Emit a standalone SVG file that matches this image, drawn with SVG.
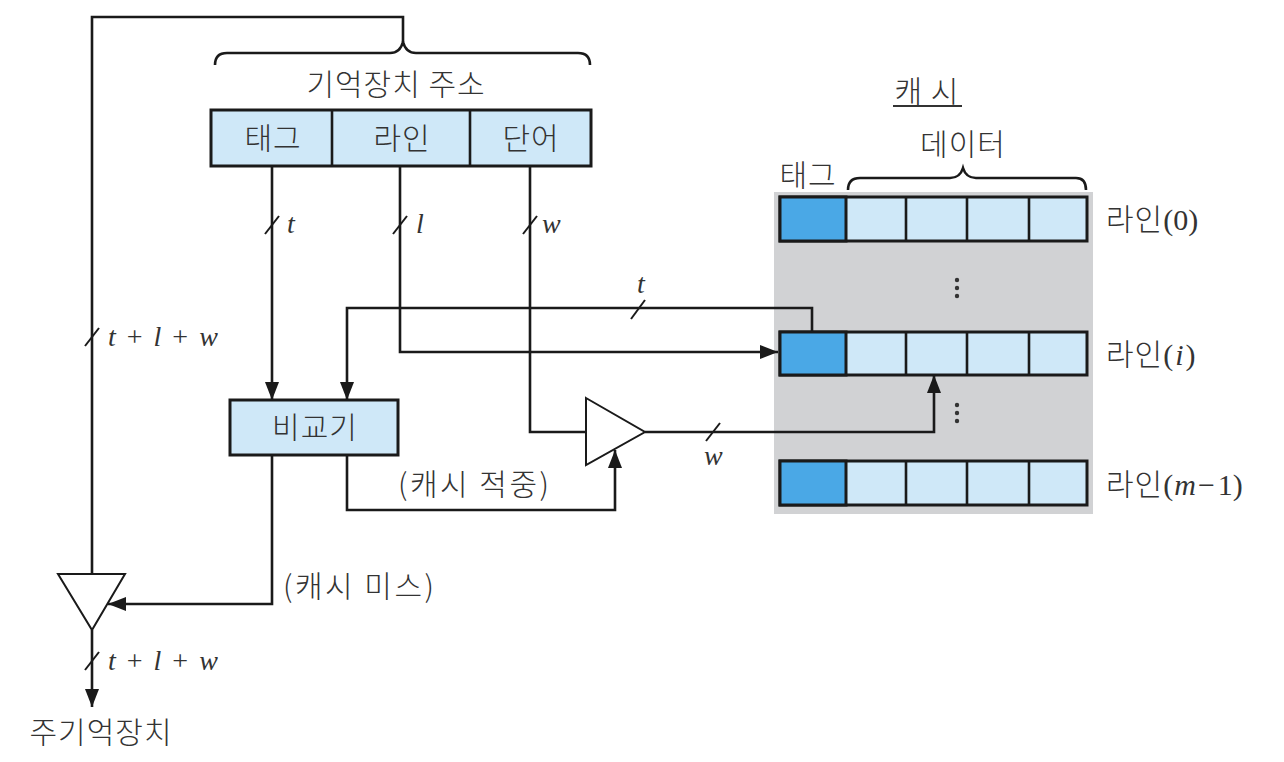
<svg xmlns="http://www.w3.org/2000/svg" width="1284" height="762" viewBox="0 0 1284 762">
<defs>
<marker id="ah" viewBox="0 0 18 14" refX="18" refY="7" markerWidth="18" markerHeight="14" markerUnits="userSpaceOnUse" orient="auto">
<path d="M0,0 L18,7 L0,14 Z" fill="#1a1a1a"/>
</marker>
<style>
.ln{fill:none;stroke:#1a1a1a;stroke-width:2.6}
.box{fill:#cfe8f8;stroke:#1a1a1a;stroke-width:3}
.tag{fill:#4aa8e6;stroke:#1a1a1a;stroke-width:3}
.kr{font-family:"Noto Sans CJK KR","Noto Sans",sans-serif;font-size:30px;font-weight:300;fill:#333;text-anchor:middle;letter-spacing:1px}
.krl{font-family:"Noto Sans CJK KR","Noto Sans",sans-serif;font-size:30px;font-weight:300;fill:#333;letter-spacing:1px}
.par{letter-spacing:2.5px}
.m{font-family:"Liberation Serif",serif;font-size:28px;fill:#333;font-style:italic}
.sum{word-spacing:4px}
.up{font-family:"Liberation Serif",serif;font-size:30px;font-style:normal;letter-spacing:0}
.it{font-family:"Liberation Serif",serif;font-size:30px;font-style:italic;letter-spacing:0}
.tri{fill:#fff;stroke:#1a1a1a;stroke-width:2}
.dot{fill:#333}
</style>
</defs>
<rect width="1284" height="762" fill="#fff"/>

<g id="address">
<path class="ln" d="M215,65 Q215,53 227,53 H390 Q400,53 403,42 Q406,53 416,53 H578 Q590,53 590,65" stroke-width="2"/>
<text class="kr" x="396" y="95">기억장치 주소</text>
<rect class="box" x="211" y="110" width="380" height="56"/>
<line class="ln" x1="332" y1="110" x2="332" y2="166" stroke-width="3"/>
<line class="ln" x1="470" y1="110" x2="470" y2="166" stroke-width="3"/>
<text class="kr" x="273" y="149">태그</text>
<text class="kr" x="402" y="149">라인</text>
<text class="kr" x="531" y="149">단어</text>
</g>

<g id="comparator">
<rect class="box" x="230" y="400" width="168" height="55"/>
<text class="kr" x="315" y="438">비교기</text>
</g>

<g id="buffer-hit">
<path class="tri" d="M586,398 L645,432 L586,465 Z"/>
</g>

<g id="buffer-miss">
<path class="tri" d="M58,574 L125,574 L92,630 Z"/>
</g>

<g id="memory">
<text class="kr" x="101" y="743">주기억장치</text>
</g>

<g id="cache">
<rect x="774" y="192" width="319" height="322" fill="#d1d2d4"/>
<text class="kr" x="927" y="102">캐 시</text>
<line x1="893" y1="106" x2="962" y2="106" stroke="#333" stroke-width="2"/>
<text class="kr" x="963" y="155">데이터</text>
<path class="ln" d="M848,190 Q848,178 860,178 H950 Q960,178 963,168 Q966,178 976,178 H1076 Q1086,178 1086,190" stroke-width="2"/>
<text class="kr" x="808" y="186">태그</text>
<g id="line0">
<rect class="box" x="780" y="197" width="307" height="44"/>
<rect class="tag" x="780" y="197" width="66" height="44"/>
<path class="ln" d="M906,197 V241 M967,197 V241 M1029,197 V241" stroke-width="3"/>
</g>
<g id="linei">
<rect class="box" x="780" y="332" width="307" height="43"/>
<rect class="tag" x="780" y="332" width="66" height="43"/>
<path class="ln" d="M906,332 V375 M967,332 V375 M1029,332 V375" stroke-width="3"/>
</g>
<g id="linem1">
<rect class="box" x="780" y="461" width="307" height="44"/>
<rect class="tag" x="780" y="461" width="66" height="44"/>
<path class="ln" d="M906,461 V505 M967,461 V505 M1029,461 V505" stroke-width="3"/>
</g>
<circle class="dot" cx="957" cy="280" r="2.2"/>
<circle class="dot" cx="957" cy="288" r="2.2"/>
<circle class="dot" cx="957" cy="296" r="2.2"/>
<circle class="dot" cx="957" cy="405" r="2.2"/>
<circle class="dot" cx="957" cy="413" r="2.2"/>
<circle class="dot" cx="957" cy="421" r="2.2"/>
<text class="krl" x="1106" y="230">라인<tspan class="up">(0)</tspan></text>
<text class="krl" x="1106" y="365">라인<tspan class="up">(</tspan><tspan class="it" dx="2">i</tspan><tspan class="up" dx="2">)</tspan></text>
<text class="krl" x="1106" y="495">라인<tspan class="up">(</tspan><tspan class="it" dx="1">m</tspan><tspan class="up" dx="2">−</tspan><tspan class="up" dx="3">1)</tspan></text>
</g>

<g id="connectors">
<path class="ln" d="M403,42 V17 H92 V574"/>
<path class="ln" d="M272,166 V400" marker-end="url(#ah)"/>
<path class="ln" d="M400,166 V352 H778" marker-end="url(#ah)"/>
<path class="ln" d="M530,166 V432 H586"/>
<path class="ln" d="M812,332 V308 H347 V400" marker-end="url(#ah)"/>
<path class="ln" d="M645,432 H934 V375" marker-end="url(#ah)"/>
<path class="ln" d="M347,455 V510 H615 V450" marker-end="url(#ah)"/>
<path class="ln" d="M272,455 V604 H108" marker-end="url(#ah)"/>
<path class="ln" d="M92,630 V707" marker-end="url(#ah)"/>
<g stroke="#1a1a1a" stroke-width="2">
<line x1="265" y1="234" x2="279" y2="216"/>
<line x1="393" y1="234" x2="407" y2="216"/>
<line x1="523" y1="234" x2="537" y2="216"/>
<line x1="85" y1="346" x2="99" y2="328"/>
<line x1="85" y1="670" x2="99" y2="652"/>
<line x1="631" y1="319" x2="645" y2="300"/>
<line x1="706" y1="441" x2="720" y2="423"/>
</g>
<text class="m" x="287" y="233">t</text>
<text class="m" x="416" y="233">l</text>
<text class="m" x="542" y="233">w</text>
<text class="m" x="637" y="293">t</text>
<text class="m" x="704" y="465">w</text>
<text class="m sum" x="108" y="346" xml:space="preserve">t<tspan font-style="normal"> + </tspan>l<tspan font-style="normal"> + </tspan>w</text>
<text class="m sum" x="108" y="670" xml:space="preserve">t<tspan font-style="normal"> + </tspan>l<tspan font-style="normal"> + </tspan>w</text>
<text class="krl par" x="398" y="495">(캐시 적중)</text>
<text class="krl par" x="283" y="597">(캐시 미스)</text>
</g>
</svg>
